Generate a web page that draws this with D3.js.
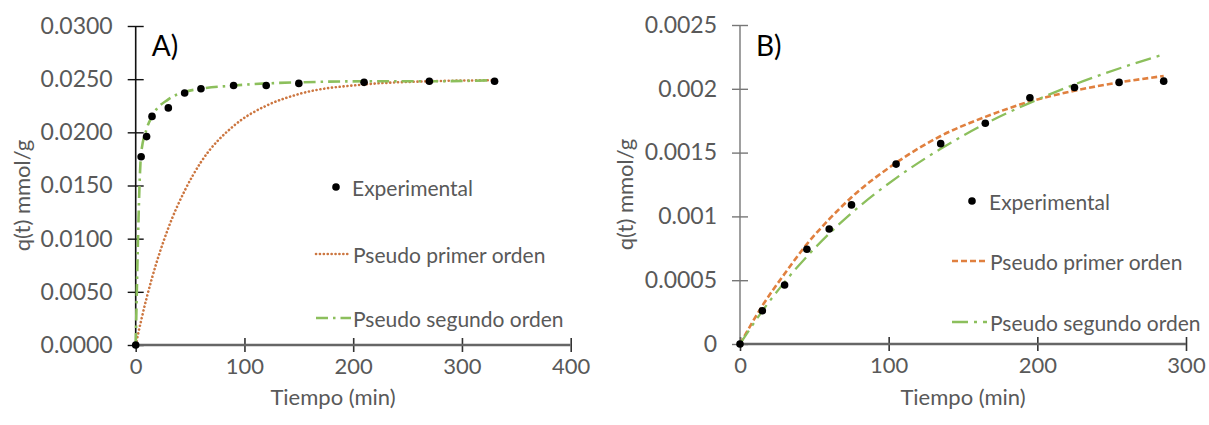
<!DOCTYPE html>
<html>
<head>
<meta charset="utf-8">
<script src="https://cdn.jsdelivr.net/npm/d3@7"></script>
<style>
  html, body { margin: 0; padding: 0; background: #fff; }
  svg text { font-family: Lato, "Open Sans", sans-serif; }
</style>
</head>
<body>
<svg id="chart" width="1209" height="425"></svg>
<script>
// ---- Panel A: kinetics, times in minutes, q in mmol/g ----
const timeA = [0, 5, 10, 15, 30, 45, 60, 90, 120, 150, 210, 270, 330];
const expA = [0, 0.0177, 0.0196, 0.0215, 0.0223, 0.0237, 0.0241, 0.0244, 0.0244, 0.0246, 0.0247, 0.0248, 0.0248];
const firstOrderA = [0, 0.0023, 0.0044, 0.0063, 0.0110, 0.0145, 0.0172, 0.0206, 0.0225, 0.0236, 0.0245, 0.0248, 0.0249];
const secondOrderA = [0, 0.0180, 0.0203, 0.0215, 0.0231, 0.0238, 0.0241, 0.0244, 0.0246, 0.0247, 0.0248, 0.0248, 0.0249];
const xTicksA = [0, 100, 200, 300, 400];
const yTicksA = [0, 0.005, 0.010, 0.015, 0.020, 0.025, 0.030];
const yTickLabelsA = ["0.0000", "0.0050", "0.0100", "0.0150", "0.0200", "0.0250", "0.0300"];

// ---- Panel B ----
const timeB = [0, 15, 30, 45, 60, 75, 105, 135, 165, 195, 225, 255, 285];
const expB = [0, 0.000261, 0.000462, 0.000742, 0.000901, 0.00109, 0.00141, 0.00157, 0.00173, 0.00193, 0.00201, 0.00205, 0.00206];
const firstOrderB = [0, 0.000299, 0.00055, 0.000783, 0.000978, 0.00115, 0.00142, 0.00163, 0.00178, 0.00190, 0.001985, 0.00205, 0.00210];
const secondOrderB = [0, 0.000258, 0.000485, 0.000686, 0.000865, 0.001026, 0.00130, 0.00153, 0.001726, 0.00189, 0.002034, 0.002159, 0.00227];
const xTicksB = [0, 100, 200, 300];
const yTicksB = [0, 0.0005, 0.001, 0.0015, 0.002, 0.0025];
const yTickLabelsB = ["0", "0.0005", "0.001", "0.0015", "0.002", "0.0025"];

const legendLabels = ["Experimental", "Pseudo primer orden", "Pseudo segundo orden"];

const svg = d3.select("#chart");
const GREY = "#595959";

const panels = [
  {
    name: "A)", time: timeA, exp: expA, first: firstOrderA, second: secondOrderA,
    x: d3.scaleLinear().domain([0, 400]).range([135.7, 570.7]),
    y: d3.scaleLinear().domain([0, 0.03]).range([345, 26]),
    xTicks: xTicksA, yTicks: yTicksA, yLabels: yTickLabelsA,
    yAxisColor: "#111", yAxisWidth: 1.6,
    firstStyle: { stroke: "#cc7640", width: 2.6, dash: "0.1,3.8", cap: "round" },
    secondStyle: { stroke: "#8cbf5c", width: 2.6, dash: "12,5,2.5,5", cap: "butt" },
    yTitleX: 21, xTitleX: 333,
    legend: { dotX: 336, lineX0: 316, lineX1: 351, textX: 353, ys: [187, 254, 318] }
  },
  {
    name: "B)", time: timeB, exp: expB, first: firstOrderB, second: secondOrderB,
    x: d3.scaleLinear().domain([0, 300]).range([740, 1186]),
    y: d3.scaleLinear().domain([0, 0.0025]).range([344, 25]),
    xTicks: xTicksB, yTicks: yTicksB, yLabels: yTickLabelsB,
    yAxisColor: "#777", yAxisWidth: 1.4,
    firstStyle: { stroke: "#e0803f", width: 2.6, dash: "6,3", cap: "butt" },
    secondStyle: { stroke: "#8cbf5c", width: 2.3, dash: "16,6,3,6", cap: "butt" },
    yTitleX: 624, xTitleX: 963,
    legend: { dotX: 972, lineX0: 952, lineX1: 987, textX: 990, ys: [201, 261, 322] }
  }
];

panels.forEach(p => {
  const g = svg.append("g");
  const [x0, x1] = p.x.range();
  const [y0, y1] = p.y.range();

  // y axis with crossing ticks
  const yAxis = d3.axisLeft(p.y)
    .tickValues(p.yTicks)
    .tickSize(8)
    .tickPadding(15)
    .tickFormat((d, i) => p.yLabels[i]);
  const gy = g.append("g").attr("transform", `translate(${x0},0)`).call(yAxis);
  gy.select(".domain").remove();
  gy.selectAll(".tick line").attr("x1", -8).attr("x2", 8)
    .attr("stroke", p.yAxisColor).attr("stroke-width", 1.4);
  gy.selectAll(".tick text").attr("fill", GREY).attr("font-size", 23);

  // x axis with crossing ticks
  const xAxis = d3.axisBottom(p.x)
    .tickValues(p.xTicks)
    .tickSize(7)
    .tickPadding(6)
    .tickFormat(d3.format("d"));
  const gx = g.append("g").attr("transform", `translate(0,${y0})`).call(xAxis);
  gx.select(".domain").remove();
  gx.selectAll(".tick line").attr("y1", -7).attr("y2", 7)
    .attr("stroke", "#333").attr("stroke-width", 1.6);
  gx.selectAll(".tick text").attr("fill", GREY).attr("font-size", 22);

  // axis lines
  g.append("line").attr("x1", x0).attr("x2", x0).attr("y1", y0).attr("y2", y1)
    .attr("stroke", p.yAxisColor).attr("stroke-width", p.yAxisWidth);
  g.append("line").attr("x1", x0).attr("x2", x1).attr("y1", y0).attr("y2", y0)
    .attr("stroke", "#666").attr("stroke-width", 2.6);

  // axis titles
  g.append("text")
    .attr("transform", `translate(${p.yTitleX},${(y0 + y1) / 2 + 10}) rotate(-90)`)
    .attr("text-anchor", "middle").attr("dominant-baseline", "central")
    .attr("fill", GREY).attr("font-size", 22)
    .text("q(t) mmol/g");
  g.append("text")
    .attr("x", p.xTitleX).attr("y", 396)
    .attr("text-anchor", "middle").attr("dominant-baseline", "central")
    .attr("fill", GREY).attr("font-size", 22)
    .text("Tiempo (min)");

  // panel tag
  g.append("text")
    .attr("x", x0 + 16).attr("y", 45)
    .attr("dominant-baseline", "central")
    .attr("fill", "#000").attr("font-size", 28)
    .text(p.name);

  const line = series => d3.line()
    .x((d, i) => p.x(p.time[i]))
    .y(d => p.y(d))
    .curve(d3.curveMonotoneX)(series);

  const styleLine = (sel, s) => sel
    .attr("fill", "none")
    .attr("stroke", s.stroke)
    .attr("stroke-width", s.width)
    .attr("stroke-dasharray", s.dash)
    .attr("stroke-linecap", s.cap);

  g.append("path").attr("d", line(p.first)).call(styleLine, p.firstStyle);
  g.append("path").attr("d", line(p.second)).call(styleLine, p.secondStyle);

  g.selectAll("circle.pt")
    .data(p.exp)
    .join("circle")
    .attr("class", "pt")
    .attr("cx", (d, i) => p.x(p.time[i]))
    .attr("cy", d => p.y(d))
    .attr("r", 3.8)
    .attr("fill", "#000");

  // legend
  const L = p.legend;
  g.append("circle").attr("cx", L.dotX).attr("cy", L.ys[0]).attr("r", 3.8).attr("fill", "#000");
  g.append("line").attr("x1", L.lineX0).attr("x2", L.lineX1).attr("y1", L.ys[1]).attr("y2", L.ys[1])
    .call(styleLine, p.firstStyle);
  g.append("line").attr("x1", L.lineX0).attr("x2", L.lineX1).attr("y1", L.ys[2]).attr("y2", L.ys[2])
    .call(styleLine, p.secondStyle);
  legendLabels.forEach((label, i) => {
    g.append("text")
      .attr("x", i === 0 ? L.textX - 1 : L.textX)
      .attr("y", L.ys[i])
      .attr("dominant-baseline", "central")
      .attr("fill", GREY).attr("font-size", 21)
      .text(label);
  });
});
</script>
</body>
</html>
